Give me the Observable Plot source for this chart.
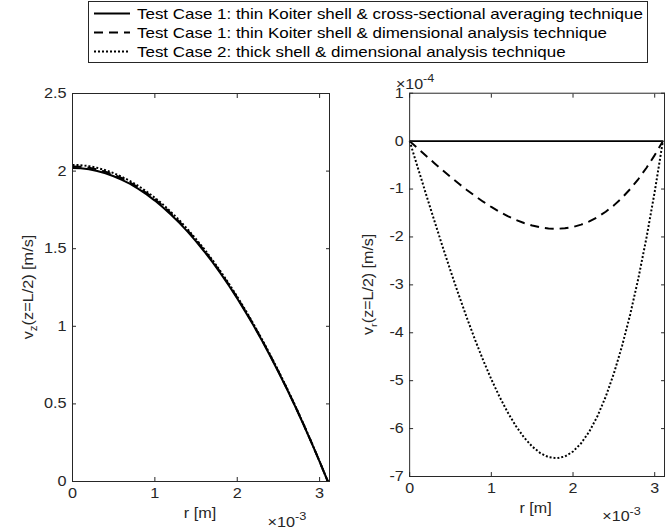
<!DOCTYPE html>
<html><head><meta charset="utf-8">
<script src="https://cdn.jsdelivr.net/npm/d3@7"></script>
<script src="https://cdn.jsdelivr.net/npm/@observablehq/plot@0.6"></script>
<style>
body{margin:0;background:#fff;}
#wrap{position:relative;width:666px;height:531px;overflow:hidden;font-family:"Liberation Sans",Arial,sans-serif;background:#fff;}
#legend{position:absolute;left:88px;top:1px;}
#left{position:absolute;left:0;top:70px;}
#right{position:absolute;left:340px;top:70px;}
</style></head>
<body>
<div id="wrap"><div id="legend"></div><div id="left"></div><div id="right"></div></div>
<script>
// radius r in units of 1e-3 m
const r = [0,0.1,0.2,0.3,0.4,0.5,0.6,0.7,0.8,0.9,1.0,1.1,1.2,1.3,1.4,1.5,1.6,1.7,1.8,1.9,2.0,2.1,2.2,2.3,2.4,2.5,2.6,2.7,2.8,2.9,3.0,3.1];
// v_z(z=L/2) [m/s]
const vzCase1Averaging = [2.02,2.018,2.012,2.001,1.986,1.967,1.944,1.917,1.885,1.850,1.810,1.766,1.717,1.665,1.608,1.547,1.482,1.413,1.339,1.261,1.179,1.093,1.003,0.908,0.809,0.706,0.599,0.488,0.372,0.252,0.128,0];
const vzCase1Dimensional = [2.03,2.028,2.022,2.011,1.996,1.977,1.954,1.926,1.894,1.859,1.819,1.775,1.726,1.673,1.616,1.555,1.489,1.420,1.346,1.267,1.185,1.098,1.008,0.913,0.813,0.709,0.602,0.490,0.374,0.253,0.129,0];
const vzCase2Dimensional = [2.04,2.038,2.032,2.021,2.006,1.987,1.963,1.936,1.904,1.868,1.828,1.784,1.734,1.682,1.624,1.562,1.497,1.427,1.352,1.274,1.191,1.104,1.013,0.917,0.817,0.713,0.605,0.493,0.376,0.255,0.129,0];
// v_r(z=L/2) [m/s] in units of 1e-4
const vrCase1Averaging = [0,0,0,0,0,0,0,0,0,0,0,0,0,0,0,0,0,0,0,0,0,0,0,0,0,0,0,0,0,0,0,0];
const vrCase1Dimensional = [0,-0.153,-0.305,-0.456,-0.603,-0.747,-0.886,-1.019,-1.145,-1.264,-1.374,-1.475,-1.565,-1.643,-1.709,-1.762,-1.800,-1.823,-1.830,-1.819,-1.791,-1.743,-1.675,-1.586,-1.475,-1.341,-1.183,-1.000,-0.791,-0.555,-0.292,0];
const vrCase2Dimensional = [0,-0.554,-1.105,-1.649,-2.183,-2.702,-3.205,-3.686,-4.143,-4.573,-4.971,-5.335,-5.661,-5.945,-6.184,-6.374,-6.513,-6.596,-6.620,-6.582,-6.478,-6.305,-6.059,-5.737,-5.335,-4.850,-4.278,-3.617,-2.862,-2.009,-1.057,0];

const xTicks = [0,1,2,3];
const vzTicks = [0,0.5,1,1.5,2,2.5];
const vrTicks = [-7,-6,-5,-4,-3,-2,-1,0,1];
const seriesNames = [
  "Test Case 1: thin Koiter shell & cross-sectional averaging technique",
  "Test Case 1: thin Koiter shell & dimensional analysis technique",
  "Test Case 2: thick shell & dimensional analysis technique"
];
const dashes = [null, "9,6", "2,2"];

const font = "Liberation Sans, Arial, sans-serif";
const axisColor = "#262626";
const STRETCH = 1.16;

function table(arrs) {
  const out = [];
  arrs.forEach((a, s) => a.forEach((v, i) => out.push({r: r[i], v, s})));
  return out;
}

function tickMarks(ticksX, ticksY) {
  return [
    Plot.axisX({anchor:"bottom", ticks:ticksX, tickSize:-4, tickFormat:()=>"", label:null, stroke:axisColor}),
    Plot.axisX({anchor:"top", ticks:ticksX, tickSize:-4, tickFormat:()=>"", label:null, stroke:axisColor}),
    Plot.axisY({anchor:"left", ticks:ticksY, tickSize:-4, tickFormat:()=>"", label:null, stroke:axisColor}),
    Plot.axisY({anchor:"right", ticks:ticksY, tickSize:-4, tickFormat:()=>"", label:null, stroke:axisColor}),
    Plot.axisX({anchor:"bottom", ticks:ticksX, tickSize:0, tickPadding:7, tickFormat:d=>String(d), label:null, fontSize:14, fill:axisColor}),
    Plot.axisY({anchor:"left", ticks:ticksY, tickSize:0, tickPadding:6, tickFormat:d=>String(d), label:null, fontSize:14, fill:axisColor})
  ];
}

function lines(data) {
  return [0,1,2].map(s => Plot.line(data.filter(d => d.s === s), {
    x:"r", y:"v", stroke:"black", strokeWidth:2, strokeLinecap:"butt", strokeLinejoin:"round", strokeDasharray: dashes[s]
  }));
}

function makePlot(data, yDomain, yTicks, mLeft, mRight, width) {
  return Plot.plot({
    width, height: 461,
    marginLeft: mLeft, marginRight: mRight, marginTop: 23, marginBottom: 50,
    style: {fontFamily: font, fontSize: "14px", color: axisColor, background: "transparent", overflow: "visible"},
    x: {domain:[0,3.12]},
    y: {domain:yDomain},
    marks: [
      ...lines(data),
      Plot.frame({stroke:axisColor, strokeWidth:1}),
      ...tickMarks(xTicks, yTicks)
    ]
  });
}

// widen text horizontally to match the reference's wide sans-serif
function stretchTexts(svg) {
  d3.select(svg).selectAll("text").each(function() {
    const t = this.getAttribute("transform");
    if (t) this.setAttribute("transform", t + ` scale(${STRETCH},1)`);
    else {
      const x = +(this.getAttribute("x") || 0);
      this.setAttribute("transform", `translate(${x},0) scale(${STRETCH},1) translate(${-x},0)`);
    }
  });
}

const leftPlot = makePlot(table([vzCase1Averaging, vzCase1Dimensional, vzCase2Dimensional]), [0,2.5], vzTicks, 72, 11, 340);
const rightPlot = makePlot(table([vrCase1Averaging, vrCase1Dimensional, vrCase2Dimensional]), [-7,1], vrTicks, 70, 2, 330);
stretchTexts(leftPlot);
stretchTexts(rightPlot);
document.getElementById("left").appendChild(leftPlot);
document.getElementById("right").appendChild(rightPlot);

function exponent(svg, x, y, txt) {
  const ex = d3.select(svg).append("text")
    .attr("transform", `translate(${x},${y}) scale(${STRETCH},1)`)
    .attr("font-family", font).attr("font-size", 14).attr("fill", axisColor);
  ex.append("tspan").text("\u00d710");
  ex.append("tspan").attr("font-size", 11).attr("dy", -7).text(txt);
}

function addLabels(svg, sub, xLabelX, expX, ylabX) {
  const g = d3.select(svg).append("g").attr("font-family", font).attr("fill", axisColor);
  const yl = g.append("text").attr("transform", `translate(${ylabX},217) rotate(-90) scale(${STRETCH},1)`)
    .attr("text-anchor", "middle").attr("font-size", 14);
  yl.append("tspan").text("v");
  yl.append("tspan").attr("font-size", 10).attr("dy", 4).text(sub);
  yl.append("tspan").attr("dy", -4).text("(z=L/2) [m/s]");
  g.append("text").attr("transform", `translate(${xLabelX},448) scale(${STRETCH},1)`)
    .attr("text-anchor", "middle").attr("font-size", 14).text("r [m]");
  exponent(svg, expX, 457, "-3");
}
addLabels(leftPlot, "z", 200, 287, 33);
addLabels(rightPlot, "r", 198, 285, 33);
exponent(rightPlot, 76, 19, "-4");

// legend
const lg = d3.select("#legend").append("svg").attr("width", 561).attr("height", 63);
lg.append("rect").attr("x", 0.5).attr("y", 0.5).attr("width", 559).attr("height", 61)
  .attr("fill", "white").attr("stroke", axisColor).attr("stroke-width", 1);
const legendTexts = seriesNames.map((name, i) => {
  const y = 12.5 + i * 19;
  lg.append("line").attr("x1", 6).attr("x2", 42).attr("y1", y).attr("y2", y)
    .attr("stroke", "black").attr("stroke-width", 2).attr("stroke-dasharray", dashes[i]);
  return lg.append("text").attr("transform", `translate(49,${y + 5.5})`)
    .attr("font-family", font).attr("font-size", 15).attr("fill", "black").text(name);
});
// the longest entry spans ~506px in the reference
const len0 = legendTexts[0].node().getComputedTextLength() || 450;
const legendScale = Math.min(1.25, 506 / len0);
legendTexts.forEach((t, i) => t.attr("transform", `translate(49,${12.5 + i * 19 + 5.5}) scale(${legendScale},1)`));
</script>
</body></html>
